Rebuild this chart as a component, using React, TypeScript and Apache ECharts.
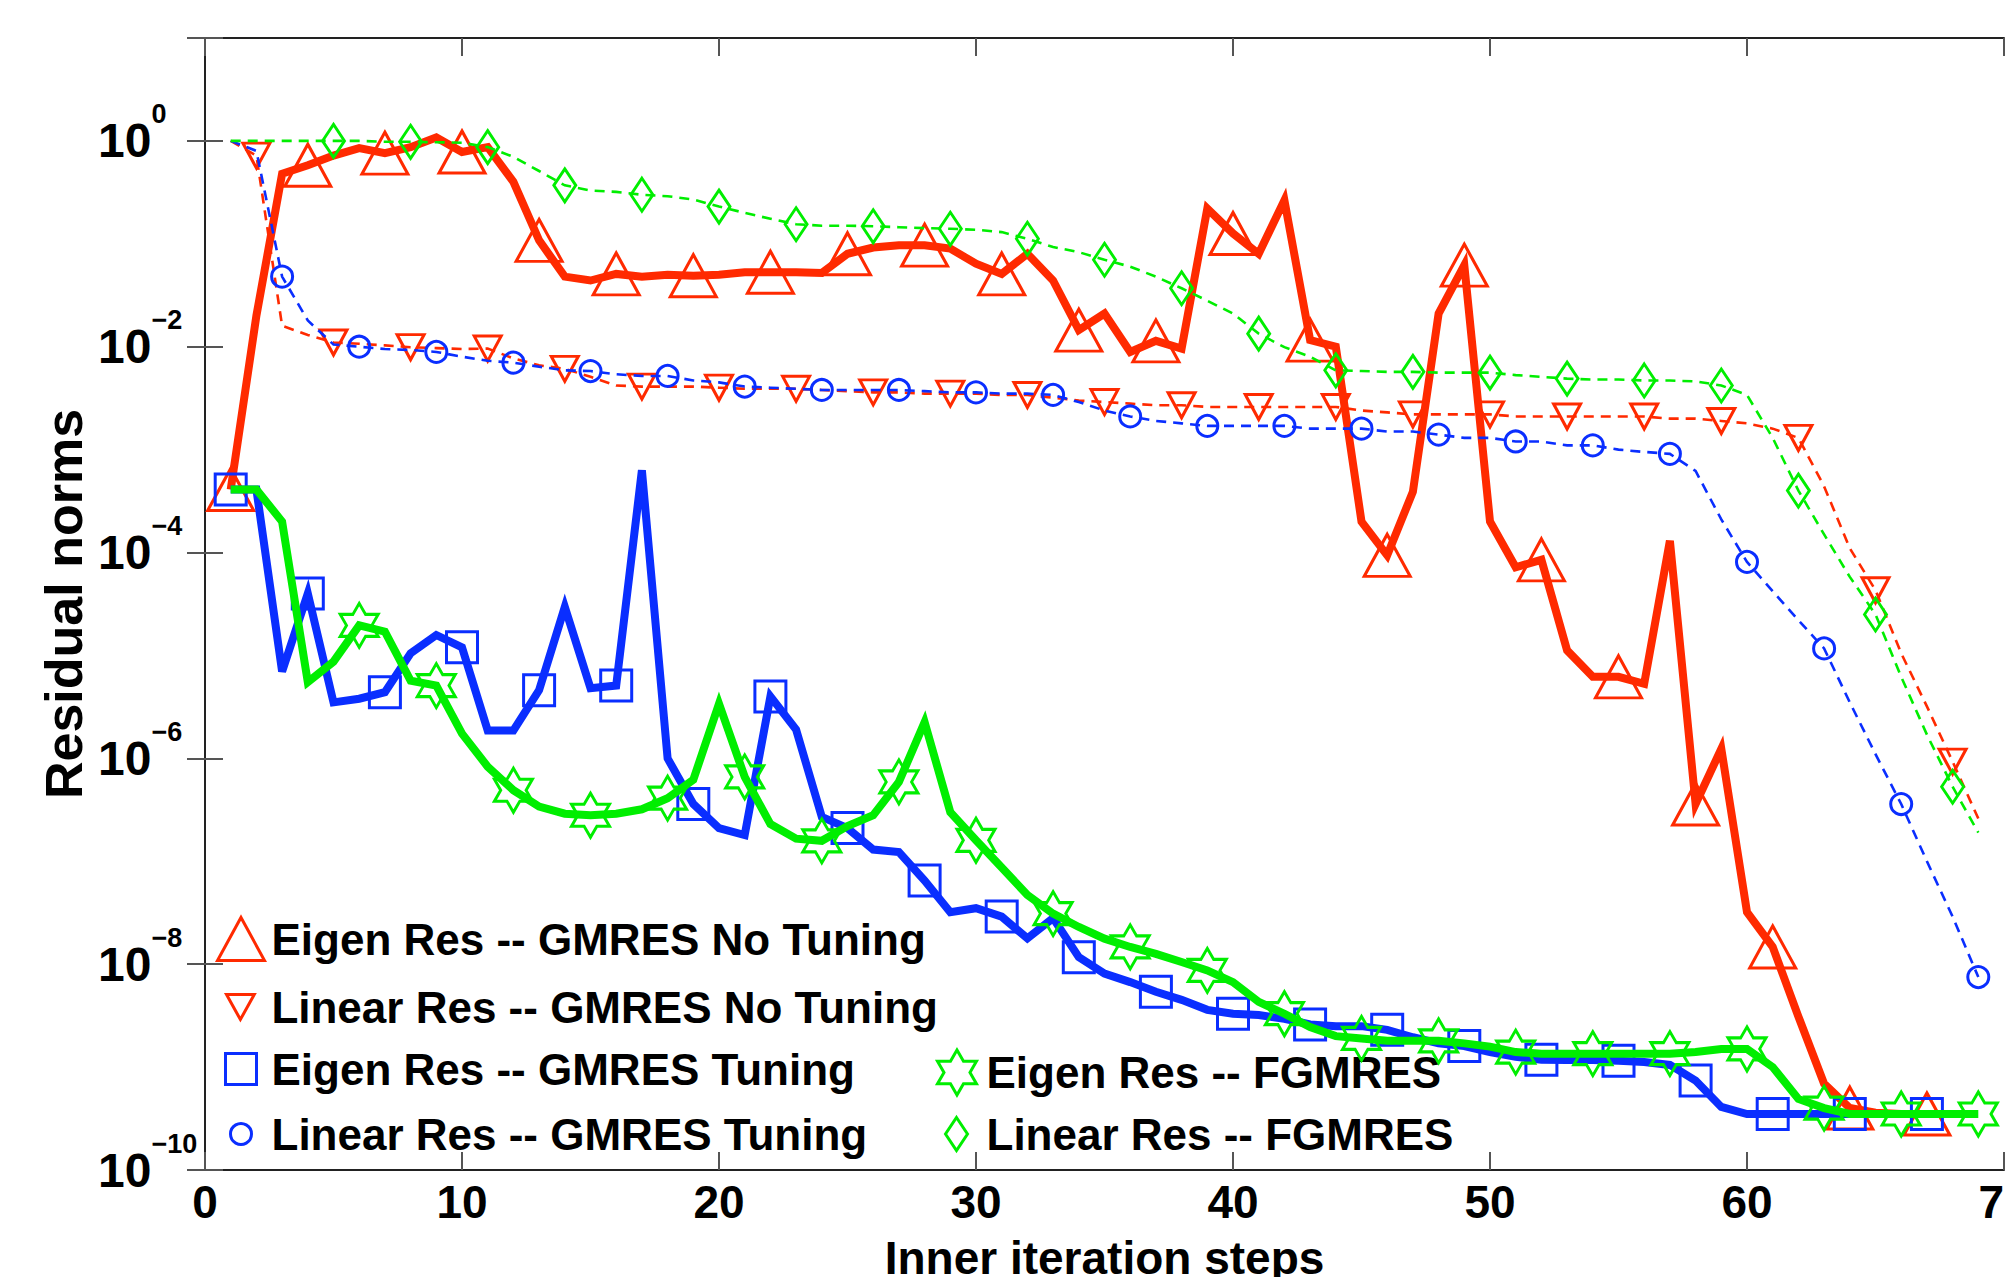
import React, { useEffect, useRef } from 'react';
import * as echarts from 'echarts';

// ---- Data (iteration k = index + 1) ----
const eigenNoTuning = [
  4.1e-4, 0.02, 0.48, 0.58, 0.72, 0.85, 0.76, 0.87, 1.08, 0.78,
  0.87, 0.40, 0.108, 0.048, 0.044, 0.051, 0.048, 0.05, 0.049, 0.05,
  0.053, 0.053, 0.053, 0.052, 0.080, 0.092, 0.097, 0.097, 0.09, 0.064,
  0.051, 0.080, 0.044, 0.0145, 0.021, 0.0089, 0.0114, 0.0096, 0.22, 0.126,
  0.080, 0.265, 0.0116, 0.0100, 2.0e-4, 9.4e-5, 3.9e-4, 0.021, 0.062, 2.0e-4,
  7.2e-5, 8.5e-5, 1.12e-5, 6.2e-6, 6.2e-6, 5.3e-6, 1.3e-4, 3.6e-7, 1.24e-6, 3.2e-8,
  1.47e-8, 3.1e-9, 6.9e-10, 4.0e-10, 3.6e-10, 3.5e-10, 3.5e-10,
];

const linearNoTuning = [
  1.0, 0.72, 0.016, 0.013, 0.011, 0.0107, 0.0103, 0.0099, 0.0097, 0.0095,
  0.0096, 0.0077, 0.0066, 0.0061, 0.0051, 0.0042, 0.0041, 0.0041, 0.0041, 0.0040,
  0.0039, 0.0039, 0.0039, 0.0038, 0.0037, 0.0036, 0.0036, 0.0035, 0.0035, 0.0035,
  0.0034, 0.0034, 0.0032, 0.0030, 0.0029, 0.0028, 0.0027, 0.0027, 0.0026, 0.0026,
  0.0026, 0.0026, 0.0026, 0.0026, 0.0024, 0.0023, 0.0022, 0.0022, 0.0022, 0.0022,
  0.0021, 0.0021, 0.0021, 0.0021, 0.0021, 0.0021, 0.0020, 0.0020, 0.0019, 0.0018,
  0.0016, 0.0013, 4.4e-4, 1.1e-4, 4.3e-5, 1.05e-5, 3.2e-6, 9.3e-7, 2.6e-7,
];

const eigenTuning = [
  4.1e-4, 4.1e-4, 7.0e-6, 4.0e-5, 3.5e-6, 3.8e-6, 4.4e-6, 1.05e-5, 1.58e-5, 1.2e-5,
  1.87e-6, 1.87e-6, 4.6e-6, 2.96e-5, 4.8e-6, 5.1e-6, 6.3e-4, 1.0e-6, 3.6e-7, 2.1e-7,
  1.8e-7, 4.0e-6, 1.9e-6, 2.7e-7, 2.1e-7, 1.3e-7, 1.23e-7, 6.5e-8, 3.2e-8, 3.5e-8,
  2.9e-8, 1.78e-8, 2.8e-8, 1.17e-8, 8.1e-9, 6.7e-9, 5.4e-9, 4.5e-9, 3.6e-9, 3.3e-9,
  3.2e-9, 2.95e-9, 2.6e-9, 2.5e-9, 2.5e-9, 2.3e-9, 1.95e-9, 1.7e-9, 1.6e-9, 1.4e-9,
  1.26e-9, 1.18e-9, 1.17e-9, 1.17e-9, 1.15e-9, 1.12e-9, 1.05e-9, 7.4e-10, 4.1e-10, 3.5e-10,
  3.5e-10, 3.5e-10, 3.5e-10, 3.5e-10, 3.5e-10, 3.5e-10, 3.5e-10,
];

const linearTuning = [
  1.0, 0.80, 0.048, 0.018, 0.0105, 0.0100, 0.0095, 0.0093, 0.0089, 0.0080,
  0.0073, 0.0070, 0.0064, 0.0059, 0.0058, 0.0054, 0.0052, 0.0052, 0.0047, 0.0045,
  0.0041, 0.0040, 0.0039, 0.0038, 0.0038, 0.0038, 0.0038, 0.0037, 0.0036, 0.0036,
  0.0035, 0.0035, 0.0034, 0.0029, 0.0024, 0.0021, 0.0019, 0.0018, 0.0017, 0.0017,
  0.0017, 0.0017, 0.0016, 0.0016, 0.0016, 0.0015, 0.0015, 0.0014, 0.0013, 0.0013,
  0.0012, 0.0012, 0.0011, 0.0011, 0.0010, 0.00095, 0.00091, 0.00062, 0.00021, 8.1e-5,
  4.2e-5, 2.2e-5, 1.17e-5, 3.5e-6, 1.1e-6, 3.6e-7, 1.0e-7, 2.9e-8, 7.5e-9,
];

const eigenFgmres = [
  4.1e-4, 4.1e-4, 2.0e-4, 5.5e-6, 8.7e-6, 1.96e-5, 1.7e-5, 5.7e-6, 5.1e-6, 1.74e-6,
  8.3e-7, 4.9e-7, 3.4e-7, 2.9e-7, 2.8e-7, 2.9e-7, 3.2e-7, 4.1e-7, 6.2e-7, 3.4e-6,
  6.6e-7, 2.3e-7, 1.66e-7, 1.58e-7, 2.2e-7, 2.8e-7, 5.9e-7, 2.25e-6, 3.0e-7, 1.6e-7,
  8.7e-8, 4.7e-8, 3.1e-8, 2.3e-8, 1.77e-8, 1.47e-8, 1.26e-8, 1.05e-8, 8.7e-9, 6.7e-9,
  4.3e-9, 3.3e-9, 2.45e-9, 2.0e-9, 1.9e-9, 1.8e-9, 1.8e-9, 1.8e-9, 1.7e-9, 1.58e-9,
  1.4e-9, 1.35e-9, 1.35e-9, 1.35e-9, 1.35e-9, 1.35e-9, 1.35e-9, 1.4e-9, 1.5e-9, 1.5e-9,
  1.0e-9, 4.9e-10, 4.0e-10, 3.5e-10, 3.5e-10, 3.5e-10, 3.5e-10, 3.5e-10, 3.5e-10,
];

const linearFgmres = [
  1.0, 1.0, 1.0, 1.0, 1.0, 1.0, 0.98, 0.98, 0.97, 0.96,
  0.87, 0.70, 0.51, 0.37, 0.33, 0.32, 0.30, 0.29, 0.27, 0.23,
  0.20, 0.175, 0.155, 0.15, 0.15, 0.148, 0.145, 0.142, 0.14, 0.137,
  0.13, 0.112, 0.093, 0.083, 0.070, 0.060, 0.048, 0.037, 0.028, 0.021,
  0.0134, 0.0099, 0.0080, 0.0059, 0.0058, 0.0057, 0.0057, 0.0056, 0.0056, 0.0056,
  0.0053, 0.0051, 0.0049, 0.0048, 0.0048, 0.0047, 0.0047, 0.0046, 0.0042, 0.0034,
  0.0013, 4.0e-4, 1.5e-4, 5.8e-5, 2.5e-5, 6.2e-6, 1.7e-6, 5.3e-7, 1.9e-7,
];

const seriesNames = [
  'Eigen Res -- GMRES No Tuning',
  'Linear Res -- GMRES No Tuning',
  'Eigen Res -- GMRES Tuning',
  'Linear Res -- GMRES Tuning',
  'Eigen Res -- FGMRES',
  'Linear Res -- FGMRES',
];

const xTickValues = [0, 10, 20, 30, 40, 50, 60, 70];
const yTickExponents = [0, -2, -4, -6, -8, -10];
const xAxisTitle = 'Inner iteration steps';
const yAxisTitle = 'Residual norms';

// ---- Styles ----
const RED = '#ff2a00';
const BLUE = '#0a2eff';
const GREEN = '#00ee00';
const FONT = '"Liberation Sans", Arial, Helvetica, sans-serif';
const INV_TRI = 'path://M0,0L10,0L5,9Z';
const HEXAGRAM =
  'path://M10,0L12.89,5L18.66,5L15.77,10L18.66,15L12.89,15L10,20L7.11,15L1.34,15L4.23,10L1.34,5L7.11,5Z';

function withMarkers(values: number[], start: number, step: number) {
  return values.map((v, i) => {
    const x = i + 1;
    const marked = x >= start && (x - start) % step === 0;
    return marked ? { value: [x, v] } : { value: [x, v], symbol: 'none' };
  });
}

const HOLLOW = 'rgba(0,0,0,0)';

function makeSeries(
  name: string,
  values: number[],
  start: number,
  color: string,
  solid: boolean,
  symbol: string,
  symbolSize: number | number[],
  z: number
) {
  return {
    name,
    type: 'line',
    data: withMarkers(values, start, 3),
    showAllSymbol: true,
    symbol,
    symbolSize,
    symbolKeepAspect: false,
    lineStyle: {
      color,
      width: solid ? 8 : 2.6,
      type: solid ? 'solid' : [10, 7],
      join: 'miter',
    },
    itemStyle: { color: HOLLOW, borderColor: color, borderWidth: 3 },
    emphasis: { disabled: true },
    z,
  };
}

const LEGEND_FS = 44;

function makeLegend(
  name: string,
  icon: string,
  color: string,
  w: number,
  h: number,
  left: number,
  cy: number,
  textLeft: number
) {
  return {
    show: true,
    selectedMode: false,
    orient: 'vertical',
    left,
    top: cy - Math.max(h, LEGEND_FS) / 2,
    padding: 0,
    itemWidth: w,
    itemHeight: h,
    data: [
      {
        name,
        icon,
        itemStyle: { color: HOLLOW, borderColor: color, borderWidth: 3 },
      },
    ],
    textStyle: {
      fontFamily: FONT,
      fontWeight: 'bold',
      fontSize: LEGEND_FS,
      color: '#000',
      padding: [0, 0, 0, textLeft - (left + w + 5)],
    },
  };
}

function yLabel(v: number) {
  const e = Math.round(Math.log10(v));
  if (!yTickExponents.includes(e)) return '';
  const s = e < 0 ? '\u2212' + String(-e) : String(e);
  return '{b|10}{e|' + s + '}';
}

export default function App() {
  const ref = useRef<HTMLDivElement>(null);

  useEffect(() => {
    if (!ref.current) return;
    const chart = echarts.init(ref.current, null, { renderer: 'svg' });

    const axisLine = { show: true, lineStyle: { color: '#222', width: 2 } };
    const axisTick = { show: true, inside: true, length: 18, lineStyle: { color: '#555', width: 2 } };

    const option: any = {
      animation: false,
      backgroundColor: '#fff',
      grid: {
        left: 205,
        right: 1,
        top: 38,
        bottom: 107,
        containLabel: false,
        outerBoundsMode: 'none',
      },
      xAxis: [
        {
          type: 'value',
          min: xTickValues[0],
          max: xTickValues[xTickValues.length - 1],
          interval: 10,
          position: 'bottom',
          axisLine,
          axisTick,
          splitLine: { show: false },
          axisLabel: {
            margin: 12,
            fontFamily: FONT,
            fontWeight: 'bold',
            fontSize: 46,
            lineHeight: 40,
            color: '#000',
          },
          name: xAxisTitle,
          nameLocation: 'middle',
          nameGap: 66,
          nameMoveOverlap: false,
          nameTextStyle: {
            fontFamily: FONT,
            fontWeight: 'bold',
            fontSize: 46,
            lineHeight: 44,
            color: '#000',
          },
        },
        {
          type: 'value',
          min: xTickValues[0],
          max: xTickValues[xTickValues.length - 1],
          interval: 10,
          position: 'top',
          axisLine,
          axisTick,
          splitLine: { show: false },
          axisLabel: { show: false },
        },
      ],
      yAxis: [
        {
          type: 'log',
          logBase: 10,
          min: 1e-10,
          max: 10,
          interval: 2,
          position: 'left',
          axisLine,
          axisTick,
          splitLine: { show: false },
          axisLabel: {
            align: 'left',
            margin: 107,
            formatter: yLabel,
            rich: {
              b: { fontFamily: FONT, fontWeight: 'bold', fontSize: 48, lineHeight: 80, color: '#000' },
              e: {
                fontFamily: FONT,
                fontWeight: 'bold',
                fontSize: 27,
                lineHeight: 27,
                verticalAlign: 'top',
                color: '#000',
              },
            },
          },
          name: yAxisTitle,
          nameLocation: 'middle',
          nameGap: 115,
          nameMoveOverlap: false,
          nameTextStyle: { fontFamily: FONT, fontWeight: 'bold', fontSize: 52, color: '#000' },
        },
        {
          type: 'log',
          logBase: 10,
          min: 1e-10,
          max: 10,
          interval: 2,
          position: 'right',
          axisLine,
          axisTick,
          splitLine: { show: false },
          axisLabel: { show: false },
        },
      ],
      legend: [
        makeLegend(seriesNames[0], 'triangle', RED, 47, 43, 216, 938, 270),
        makeLegend(seriesNames[1], INV_TRI, RED, 28, 25, 225, 1007, 270),
        makeLegend(seriesNames[2], 'rect', BLUE, 31, 31, 224, 1069, 270),
        makeLegend(seriesNames[3], 'circle', BLUE, 21, 21, 229, 1134, 270),
        makeLegend(seriesNames[4], HEXAGRAM, GREEN, 39, 45, 936, 1071, 985),
        makeLegend(seriesNames[5], 'diamond', GREEN, 22, 33, 944, 1134, 985),
      ],
      series: [
        makeSeries(seriesNames[0], eigenNoTuning, 1, RED, true, 'triangle', [46, 42], 2),
        makeSeries(seriesNames[1], linearNoTuning, 2, RED, false, INV_TRI, [27, 25], 3),
        makeSeries(seriesNames[2], eigenTuning, 1, BLUE, true, 'rect', 31, 4),
        makeSeries(seriesNames[3], linearTuning, 3, BLUE, false, 'circle', 21, 5),
        makeSeries(seriesNames[4], eigenFgmres, 6, GREEN, true, HEXAGRAM, [38, 44], 6),
        makeSeries(seriesNames[5], linearFgmres, 5, GREEN, false, 'diamond', [22, 33], 7),
      ],
    };

    chart.setOption(option);
    return () => chart.dispose();
  }, []);

  return (
    <div
      ref={ref}
      style={{ position: 'absolute', left: 0, top: 0, width: 2005, height: 1277, background: '#fff' }}
    />
  );
}
